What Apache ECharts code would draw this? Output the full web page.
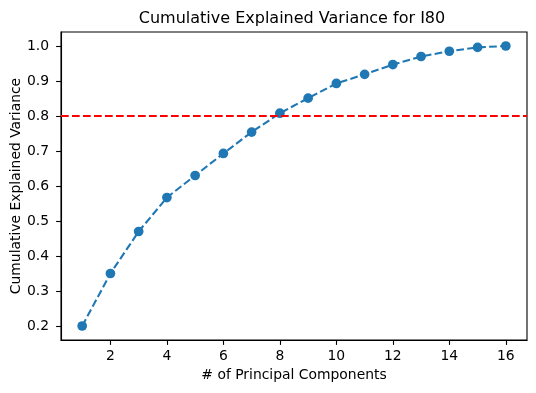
<!DOCTYPE html>
<html>
<head>
<meta charset="utf-8">
<script src="https://cdn.jsdelivr.net/npm/echarts@6/dist/echarts.min.js"></script>
<style>
html,body{margin:0;padding:0;background:#fff;}
#chart{width:536px;height:393px;}
</style>
</head>
<body>
<div id="chart"></div>
<script>
const components = [1,2,3,4,5,6,7,8,9,10,11,12,13,14,15,16];
const cumulativeVariance = [0.200,0.350,0.470,0.567,0.630,0.693,0.754,0.808,0.851,0.893,0.919,0.947,0.970,0.985,0.996,1.000];
const threshold = [0.8];
const xTicks = [2,4,6,8,10,12,14,16];
const yTicks = [0.2,0.3,0.4,0.5,0.6,0.7,0.8,0.9,1.0];
const titleText = 'Cumulative Explained Variance for I80';
const xLabel = '# of Principal Components';
const yLabel = 'Cumulative Explained Variance';

const FONT = 'DejaVu Sans';
const chart = echarts.init(document.getElementById('chart'), null, {renderer:'canvas'});
chart.setOption({
  animation: false,
  backgroundColor: '#fff',
  title: {
    text: titleText,
    left: 287, top: 6,
    textAlign: 'center',
    textStyle: {fontFamily: FONT, fontSize: 16, fontWeight: 'normal', color: '#000'}
  },
  grid: {left: 61, right: 9, top: 32, bottom: 53, show: true, borderColor: '#000', borderWidth: 1.1, backgroundColor: 'transparent', containLabel: false, outerBoundsMode: 'none'},
  xAxis: {
    type: 'value', min: 0.25, max: 16.75,
    name: xLabel, nameLocation: 'middle', nameGap: 27,
    nameTextStyle: {fontFamily: FONT, fontSize: 13.9, color: '#000'},
    axisLine: {show: true, onZero: false, lineStyle: {color: '#000', width: 1.1}},
    axisTick: {show: true, inside: false, length: 4.9, lineStyle: {color: '#000', width: 1.1}, customValues: xTicks},
    axisLabel: {fontFamily: FONT, fontSize: 13.9, color: '#000', margin: 9, customValues: xTicks},
    splitLine: {show: false}
  },
  yAxis: {
    type: 'value', min: 0.16, max: 1.04,
    name: yLabel, nameLocation: 'middle', nameGap: 38, nameRotate: 90, nameMoveOverlap: false,
    nameTextStyle: {fontFamily: FONT, fontSize: 13.9, color: '#000'},
    axisLine: {show: true, onZero: false, lineStyle: {color: '#000', width: 1.1}},
    axisTick: {show: true, inside: false, length: 4.9, lineStyle: {color: '#000', width: 1.1}, customValues: yTicks},
    axisLabel: {fontFamily: FONT, fontSize: 13.9, color: '#000', margin: 12, customValues: yTicks, formatter: v => v.toFixed(1)},
    splitLine: {show: false}
  },
  series: [{
    type: 'line',
    data: components.map((c, i) => [c, cumulativeVariance[i]]),
    symbol: 'circle', symbolSize: 9.7,
    itemStyle: {color: '#1f77b4', borderWidth: 0},
    lineStyle: {color: '#1f77b4', width: 2.08, type: [7.7, 3.3]},
    markLine: {
      silent: true, symbol: ['none','none'], label: {show: false},
      lineStyle: {color: '#ff0000', width: 2.08, type: [7.7, 3.3]},
      data: threshold.map(v => ({yAxis: v}))
    },
    z: 3
  }]
});
</script>
</body>
</html>
